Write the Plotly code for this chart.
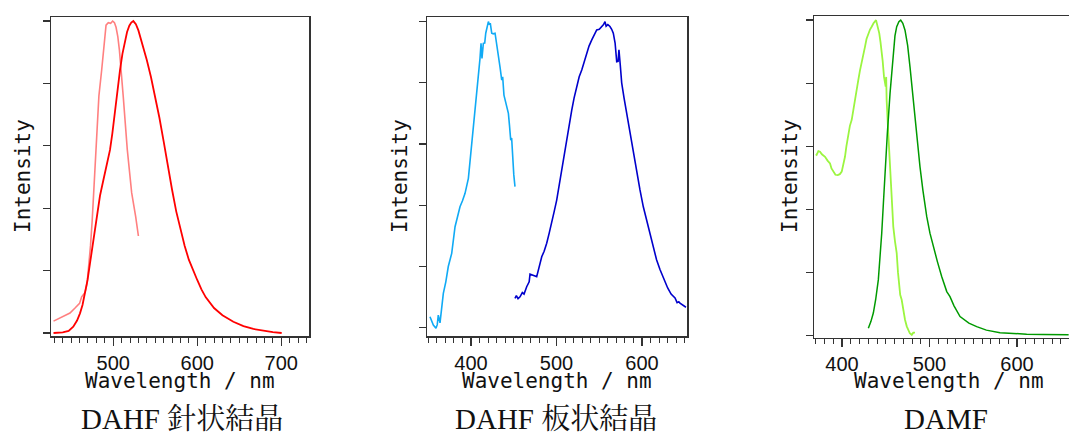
import plotly.graph_objects as go

W, H = 1069, 436

# ---------------- Panel 1: DAHF needle crystal ----------------
p1_ex_x = [429, 440, 448.6, 454.6, 460, 462.5, 466.5, 469, 471, 473, 475, 477, 479, 481, 483,
           486.3, 489, 491.5, 494.2, 497, 499.4, 501.5, 503.4, 505.5, 507.4, 510, 512, 516.8, 522,
           526.8, 530]
p1_ex_y = [0.038, 0.052, 0.064, 0.08, 0.095, 0.116, 0.13, 0.16, 0.21, 0.28, 0.36, 0.46, 0.56, 0.67,
           0.76, 0.843, 0.907, 0.987, 0.995, 0.993, 1.0, 0.995, 0.98, 0.95, 0.907, 0.83, 0.757,
           0.587, 0.449, 0.372, 0.311]
p1_em_x = [429, 440, 447, 452.5, 457, 460.5, 463.5, 466.5, 469.5, 472.4, 475.5, 478.4, 481.5, 484.3,
           487.5, 490.3, 493.5, 496.2, 499, 502.2, 505, 508.1, 511, 514, 516.5, 519.2, 521.5, 524,
           527, 530, 535, 540, 545, 550, 555, 560, 565, 570, 575, 580, 585, 590, 595, 600, 605,
           610, 620, 630, 643, 655, 666.8, 680, 690, 700.5]
p1_em_y = [0.0, 0.002, 0.007, 0.02, 0.04, 0.063, 0.09, 0.127, 0.17, 0.223, 0.28, 0.34, 0.395, 0.44,
           0.48, 0.512, 0.55, 0.587, 0.64, 0.715, 0.78, 0.843, 0.895, 0.94, 0.965, 0.985, 0.995, 1.0,
           0.99, 0.97, 0.925, 0.875, 0.82, 0.76, 0.69, 0.615, 0.535, 0.46, 0.39, 0.33, 0.28, 0.235,
           0.2, 0.17, 0.14, 0.115, 0.08, 0.057, 0.036, 0.022, 0.013, 0.006, 0.003, 0.0]

# ---------------- Panel 2: DAHF plate crystal ----------------
p2_ex_x = [352, 354, 355.9, 359, 360.5, 361.7, 363.7, 365.5, 367.6, 370.5, 373.4, 377.4, 379.5, 381.3,
           384, 387.1, 390, 393, 396.9, 398.8, 400.8, 402.8, 404.7, 406.6, 408.6, 410.5, 411.7, 412.8,
           414.4, 416, 417.2, 419, 420.3, 421.5, 422.5, 424.2, 426, 428.1, 430, 432, 434, 435.9, 437,
           438.5, 439.8, 441.5, 443.7, 445, 446.4, 447.5, 448.7, 450, 451.4]
p2_ex_y = [0.036, 0.02, 0.009, -0.002, 0.01, 0.041, 0.016, 0.06, 0.112, 0.15, 0.2, 0.243, 0.29, 0.33,
           0.36, 0.395, 0.415, 0.439, 0.488, 0.54, 0.613, 0.66, 0.722, 0.77, 0.82, 0.88, 0.929, 0.88,
           0.929, 0.93, 0.962, 0.985, 1.0, 0.99, 0.995, 0.962, 0.96, 0.962, 0.93, 0.897, 0.85, 0.809,
           0.82, 0.76, 0.744, 0.73, 0.7, 0.66, 0.613, 0.62, 0.548, 0.5, 0.461]
p2_em_x = [451.4, 453, 455, 457.3, 460, 462, 465.1, 468, 469, 471, 474, 476.8, 479.5, 482.7, 485.5,
           488.5, 491.5, 494.4, 497.3, 500.2, 503, 506.1, 509, 511.9, 515, 517.8, 520.5, 523.6, 526.5,
           529.5, 532.5, 535.3, 538, 541.2, 544, 547, 550, 552.9, 555, 556.7, 558, 560, 562.5, 564.5,
           566.4, 568.5, 570.4, 572, 573, 574.5, 576.2, 579, 582, 586, 589.8, 593.8, 597.6, 601.5,
           605.5, 609.3, 613, 617, 621, 624, 626.9, 630, 634, 638.6, 641, 643, 644.4, 647, 649, 651.4]
p2_em_y = [0.096, 0.105, 0.095, 0.101, 0.115, 0.11, 0.134, 0.15, 0.175, 0.172, 0.17, 0.167, 0.2, 0.232,
           0.25, 0.276, 0.31, 0.341, 0.38, 0.417, 0.465, 0.515, 0.565, 0.613, 0.665, 0.711, 0.75, 0.788,
           0.82, 0.842, 0.87, 0.897, 0.92, 0.94, 0.955, 0.973, 0.975, 0.984, 0.99, 1.0, 0.985, 0.99,
           0.984, 0.975, 0.962, 0.93, 0.869, 0.87, 0.908, 0.86, 0.80, 0.75, 0.70, 0.64, 0.58, 0.50,
           0.45, 0.395, 0.35, 0.30, 0.26, 0.222, 0.19, 0.17, 0.15, 0.13, 0.11, 0.097, 0.082, 0.085,
           0.08, 0.075, 0.07, 0.067]

# ---------------- Panel 3: DAMF ----------------
p3_ex_x = [370, 371, 373, 374.9, 377, 380.6, 383.5, 386.3, 388, 390.1, 392.5, 395.1, 397.5, 399.7,
           401.5, 403.4, 405, 407.2, 409, 411.1, 413, 414.9, 416.8, 418.6, 420.5, 422.5, 424.5, 426.3,
           428, 430.1, 432, 433.9, 436, 438.9, 440.5, 442.6, 444, 445.4, 446.5, 448, 449, 449.9, 450.5,
           451, 452.9, 454.9, 456.8, 458.6, 460.5, 462.5, 464, 465.5, 466.5, 468.2, 470, 472, 474,
           475.8, 477.5, 479.7, 481.5, 483.4]
p3_ex_y = [0.575, 0.573, 0.585, 0.583, 0.575, 0.567, 0.555, 0.546, 0.53, 0.52, 0.51, 0.509, 0.512, 0.52,
           0.54, 0.567, 0.6, 0.641, 0.665, 0.684, 0.72, 0.747, 0.78, 0.81, 0.84, 0.863, 0.89, 0.916,
           0.94, 0.958, 0.97, 0.979, 0.99, 1.0, 0.985, 0.958, 0.93, 0.905, 0.87, 0.82, 0.8, 0.789, 0.82,
           0.747, 0.641, 0.536, 0.43, 0.346, 0.3, 0.262, 0.2, 0.156, 0.13, 0.114, 0.08, 0.051, 0.03,
           0.019, 0.008, 0.003, 0.01, 0.01]
p3_em_x = [430.1, 433, 435.8, 438.5, 441.5, 443.5, 445.4, 447.3, 449.1, 451.8, 454.9, 456.8, 458.6,
           460.5, 462.5, 465, 467.1, 469.5, 472, 475, 477.7, 480.5, 483.4, 486, 489.1, 492.5, 496.8,
           500.5, 504.3, 509, 513.9, 519.7, 523.4, 528, 534.9, 545, 553.9, 565, 580.6, 595, 611, 630,
           659]
p3_em_y = [0.024, 0.045, 0.072, 0.115, 0.177, 0.24, 0.325, 0.42, 0.515, 0.641, 0.768, 0.84, 0.905,
           0.95, 0.979, 0.995, 1.0, 0.99, 0.968, 0.92, 0.852, 0.775, 0.694, 0.615, 0.536, 0.46, 0.378,
           0.325, 0.283, 0.235, 0.188, 0.14, 0.124, 0.095, 0.061, 0.04, 0.029, 0.018, 0.01, 0.007,
           0.005, 0.004, 0.003]

x_ticks = [400, 500, 600, 700]
x_tick_labels = ["400", "500", "600", "700"]
y_ticks = [0, 0.2, 0.4, 0.6, 0.8, 1.0]
captions = ["DAHF 針状結晶", "DAHF 板状結晶", "DAMF"]
x_title = "Wavelength / nm"
y_title = "Intensity"

fig = go.Figure()
traces = [
    (p1_ex_x, p1_ex_y, "#FF8080", 1.6, "x", "y"),
    (p1_em_x, p1_em_y, "#FF0000", 1.8, "x", "y"),
    (p2_ex_x, p2_ex_y, "#10AAF5", 1.6, "x2", "y2"),
    (p2_em_x, p2_em_y, "#0000CC", 1.6, "x2", "y2"),
    (p3_ex_x, p3_ex_y, "#9BF540", 1.8, "x3", "y3"),
    (p3_em_x, p3_em_y, "#009A00", 1.5, "x3", "y3"),
]
for xs, ys, c, w, xa, ya in traces:
    fig.add_trace(go.Scatter(x=xs, y=ys, mode="lines", line=dict(color=c, width=w),
                             xaxis=xa, yaxis=ya, showlegend=False, hoverinfo="skip"))

panels = [
    ((51, 309), (426, 733), (17, 336), (-0.0096, 1.013), True),
    ((427, 687), (348.5, 652.6), (17, 336), (-0.027, 1.015), True),
    ((814, 1069), (368, 659.4), (16.3, 337.7), (-0.006, 1.012), False),
]

tick_font = dict(family="Liberation Sans, Arial, sans-serif", size=20, color="#111")
layout = dict(width=W, height=H, margin=dict(l=0, r=0, t=0, b=0),
              paper_bgcolor="white", plot_bgcolor="white", hovermode=False)
for i, (xd, xr, yd, yr, my) in enumerate(panels):
    sfx = "" if i == 0 else str(i + 1)
    layout["xaxis" + sfx] = dict(
        domain=[xd[0] / W, xd[1] / W], range=list(xr), anchor="y" + sfx,
        showgrid=False, zeroline=False, showline=True, linecolor="#333", linewidth=1.5,
        mirror=True, ticks="outside", tickvals=x_ticks, ticktext=x_tick_labels, ticklen=8,
        tickcolor="#333", tickwidth=1.2, tickfont=tick_font, ticklabelstandoff=0,
        minor=dict(dtick=10, tick0=0, ticks="outside", ticklen=5, tickcolor="#333", tickwidth=1),
    )
    layout["yaxis" + sfx] = dict(
        domain=[(H - yd[1]) / H, (H - yd[0]) / H], range=list(yr), anchor="x" + sfx,
        showgrid=False, zeroline=False, showline=True, linecolor="#333", linewidth=1.5,
        mirror=my, ticks="outside", tickvals=y_ticks, showticklabels=False, ticklen=7,
        tickcolor="#333", tickwidth=1.2,
    )

mono = dict(family="DejaVu Sans Mono, Liberation Mono, monospace", size=21, color="#111")
serif = dict(family="Liberation Serif, Noto Serif CJK JP, Noto Sans CJK JP, serif", size=29, color="#111")
annotations = []
ytitle_x = [23, 400, 790]
centers = [180, 557, 949]
cap_x = [182, 556, 946]
for i in range(3):
    annotations.append(dict(text=y_title, x=ytitle_x[i] / W, y=(H - 176) / H, xref="paper", yref="paper",
                            showarrow=False, textangle=-90, font=mono, xanchor="center", yanchor="middle"))
    annotations.append(dict(text=x_title, x=centers[i] / W, y=(H - 381) / H, xref="paper", yref="paper",
                            showarrow=False, font=mono, xanchor="center", yanchor="middle"))
    annotations.append(dict(text=captions[i], x=cap_x[i] / W, y=(H - 419) / H, xref="paper", yref="paper",
                            showarrow=False, font=serif, xanchor="center", yanchor="middle"))
layout["annotations"] = annotations
fig.update_layout(**layout)
fig.write_html("out.html", config={"displayModeBar": False, "staticPlot": True},
               post_script="document.body.style.margin='0';document.body.style.padding='0';"
                           "document.body.style.overflow='hidden';")
